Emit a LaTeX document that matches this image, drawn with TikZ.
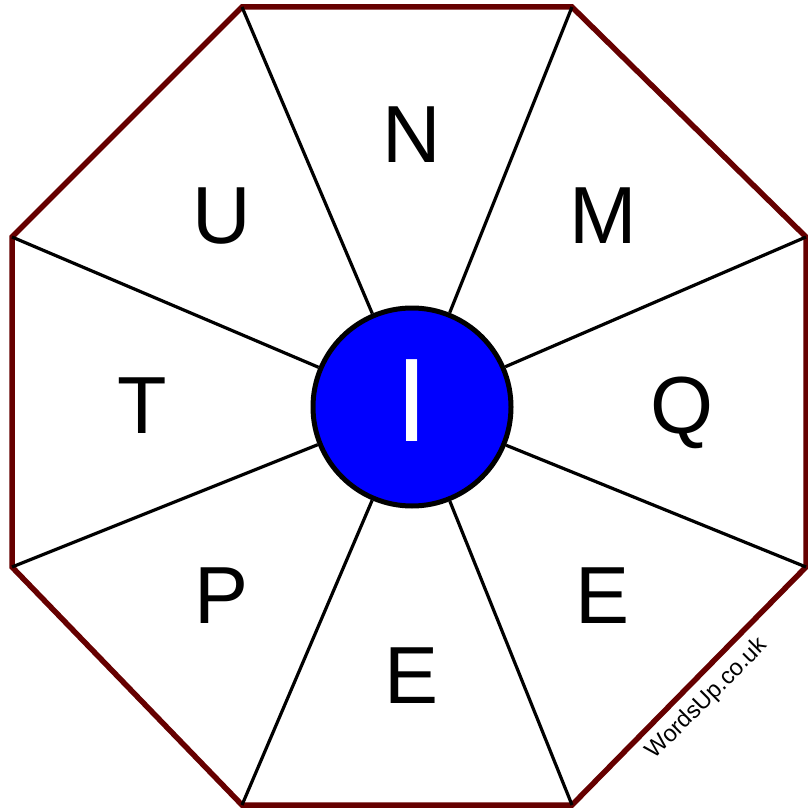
\documentclass[tikz,border=0pt]{standalone}
\usepackage{fontspec}
\setmainfont{Liberation Sans}
\usetikzlibrary{positioning}
\definecolor{rimred}{HTML}{660000}
\definecolor{hubblue}{HTML}{0000FF}

\begin{document}
\begin{tikzpicture}[x=1pt, y=-1pt,
            rim/.style={draw=rimred, line width=5.5pt, line join=miter},
            spoke/.style={draw=black, line width=3.2pt},
            hub/.style={circle, fill=hubblue, draw=black, line width=5pt, minimum size=198pt, inner sep=0,
                text=white, text depth=13pt, font=\fontsize{119}{119}\selectfont},
            lt/.style={anchor=base, font=\fontsize{81}{81}\selectfont}]
            \useasboundingbox (0,0) rectangle (807,810);
            % Rim
            \foreach \x/\y/\nm in {242/7/a, 572/7/b, 806/237/c, 806/567/d, 572/805/e, 242/805/f, 12/567/g, 12/237/h} {
                \coordinate (V\nm) at (\x, \y);
            }
            \draw[rim] (Va) -- (Vb) -- (Vc) -- (Vd) -- (Ve) -- (Vf) -- (Vg) -- (Vh) -- cycle;

            % Hub and spokes
            \node[hub] (hub) at (412, 407) {I};
            \foreach \nm in {a, b, c, d, e, f, g, h} {
                \draw[spoke] (V\nm) -- (hub);
            }

            % Letters
            \foreach \x/\y/\lab/\nm in {412/163/N/n, 603/243/M/ne, 682/433/Q/e, 603/623/E/se,
                    412/703/E/s, 222/623/P/sw, 142/433/T/w, 222/243/U/nw} {
                \node[lt] (L\nm) at (\x, \y) {\lab};
            }

            % Watermark
            \node[rotate=45, font=\fontsize{23.5}{23.5}\selectfont] (mark) at (707, 699) {WordsUp.co.uk};
        \end{tikzpicture}
\end{document}
